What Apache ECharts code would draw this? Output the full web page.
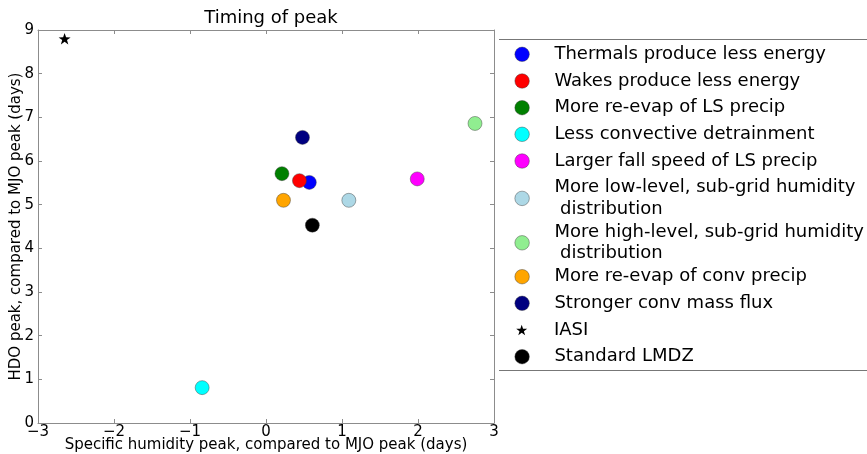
<!DOCTYPE html>
<html>
<head>
<meta charset="utf-8">
<script src="https://cdn.jsdelivr.net/npm/echarts@6/dist/echarts.min.js"></script>
<style>html,body{margin:0;padding:0;background:#fff}#c{width:867px;height:454px}</style>
</head>
<body>
<div id="c"></div>
<script>
// ---- data ----
const seriesNames = [
  'Thermals produce less energy',
  'Wakes produce less energy',
  'More re-evap of LS precip',
  'Less convective detrainment',
  'Larger fall speed of LS precip',
  'More low-level, sub-grid humidity\n distribution',
  'More high-level, sub-grid humidity\n distribution',
  'More re-evap of conv precip',
  'Stronger conv mass flux',
  'IASI',
  'Standard LMDZ'
];
const seriesColors = ['#0000ff','#ff0000','#008000','#00ffff','#ff00ff','#add8e6','#90ee90','#ffa500','#000080','#000000','#000000'];
const xValues = [0.57, 0.44, 0.21, -0.84, 1.99, 1.09, 2.75, 0.23, 0.48, -2.65, 0.61];
const yValues = [5.51, 5.55, 5.71, 0.81, 5.59, 5.10, 6.86, 5.10, 6.54, 8.80, 4.53];
const xTicks = [-3, -2, -1, 0, 1, 2, 3];
const yTicks = [0, 1, 2, 3, 4, 5, 6, 7, 8, 9];

// ---- layout ----
const starPath = 'path://M0,-10L2.35,-3.24L9.51,-3.09L3.8,1.24L5.88,8.09L0,4L-5.88,8.09L-3.8,1.24L-9.51,-3.09L-2.35,-3.24Z';
const legendCenters = [54.3, 81, 107.7, 134.3, 161, 198.4, 242.8, 276.7, 303.3, 330, 356.7];
const lineH = 21.3;
const iconCx = 521.7, textX = 554;

const fmt = v => v < 0 ? '\u2212' + (-v) : String(v);
const axisGray = '#8c8c8c';

const series = seriesNames.map((n, i) => ({
  name: n,
  type: 'scatter',
  xAxisIndex: 0, yAxisIndex: 0,
  symbol: n === 'IASI' ? starPath : 'circle',
  symbolKeepAspect: true,
  symbolSize: n === 'IASI' ? 12 : 14,
  itemStyle: {color: seriesColors[i], borderColor: n === 'IASI' ? seriesColors[i] : 'rgba(60,60,60,0.55)', borderWidth: n === 'IASI' ? 0 : 0.8, opacity: 1},
  emphasis: {disabled: true},
  data: [[xValues[i], yValues[i]]]
}));

const legends = seriesNames.map((n, i) => {
  const lines = n.split('\n').length;
  const isStar = n === 'IASI';
  const w = isStar ? 11 : 14.5;
  return {
    data: [{name: n, icon: isStar ? starPath : 'circle'}],
    left: iconCx - w / 2,
    top: legendCenters[i] - lines * lineH / 2,
    padding: 0,
    itemWidth: w,
    itemHeight: w,
    selectedMode: false,
    textStyle: {fontFamily: 'DejaVu Sans', fontSize: 18, color: '#000', lineHeight: lineH,
      padding: [0, 0, 0, textX - (iconCx + w / 2) - 5]},
    itemStyle: {borderWidth: isStar ? 0 : 0.8, borderColor: 'rgba(60,60,60,0.55)'}
  };
});

const chart = echarts.init(document.getElementById('c'), null, {renderer: 'canvas'});
chart.setOption({
  animation: false,
  backgroundColor: '#fff',
  textStyle: {fontFamily: 'DejaVu Sans'},
  title: {
    text: 'Timing of peak', left: 266, textAlign: 'center', top: 4,
    textStyle: {fontFamily: 'DejaVu Sans', fontSize: 18, fontWeight: 'normal', color: '#000'}
  },
  grid: {left: 38, top: 30, width: 456, height: 393, containLabel: false, outerBoundsMode: 'none'},
  xAxis: [{
    type: 'value', min: xTicks[0], max: xTicks[xTicks.length - 1], interval: 1,
    name: 'Specific humidity peak, compared to MJO peak (days)',
    nameLocation: 'middle', nameGap: 15, nameMoveOverlap: false,
    nameTextStyle: {fontFamily: 'DejaVu Sans', fontSize: 15, color: '#000'},
    axisLine: {show: true, onZero: false, lineStyle: {color: axisGray, width: 1}},
    axisTick: {show: true, inside: true, length: 4, lineStyle: {color: axisGray}},
    axisLabel: {fontFamily: 'DejaVu Sans', fontSize: 15, color: '#000', margin: 2, formatter: fmt, showMinLabel: true, showMaxLabel: true},
    splitLine: {show: false}
  }, {
    type: 'value', position: 'top', min: xTicks[0], max: xTicks[xTicks.length - 1], interval: 1,
    axisLine: {show: true, onZero: false, lineStyle: {color: axisGray, width: 1}},
    axisTick: {show: true, inside: true, length: 4, lineStyle: {color: axisGray}},
    axisLabel: {show: false}, splitLine: {show: false}
  }],
  yAxis: [{
    type: 'value', min: yTicks[0], max: yTicks[yTicks.length - 1], interval: 1,
    name: 'HDO peak, compared to MJO peak (days)',
    nameLocation: 'middle', nameGap: 14, nameRotate: 90, nameMoveOverlap: false,
    nameTextStyle: {fontFamily: 'DejaVu Sans', fontSize: 15, color: '#000'},
    axisLine: {show: true, onZero: false, lineStyle: {color: axisGray, width: 1}},
    axisTick: {show: true, inside: true, length: 4, lineStyle: {color: axisGray}},
    axisLabel: {fontFamily: 'DejaVu Sans', fontSize: 15, color: '#000', margin: 4, formatter: fmt, showMinLabel: true, showMaxLabel: true},
    splitLine: {show: false}
  }, {
    type: 'value', position: 'right', min: yTicks[0], max: yTicks[yTicks.length - 1], interval: 1,
    axisLine: {show: true, onZero: false, lineStyle: {color: axisGray, width: 1}},
    axisTick: {show: true, inside: true, length: 4, lineStyle: {color: axisGray}},
    axisLabel: {show: false}, splitLine: {show: false}
  }],
  legend: legends,
  graphic: [
    {type: 'line', shape: {x1: 499, y1: 39.5, x2: 867, y2: 39.5}, style: {stroke: '#777', lineWidth: 1}},
    {type: 'line', shape: {x1: 499, y1: 370.5, x2: 867, y2: 370.5}, style: {stroke: '#777', lineWidth: 1}}
  ],
  series: series
});
</script>
</body>
</html>
